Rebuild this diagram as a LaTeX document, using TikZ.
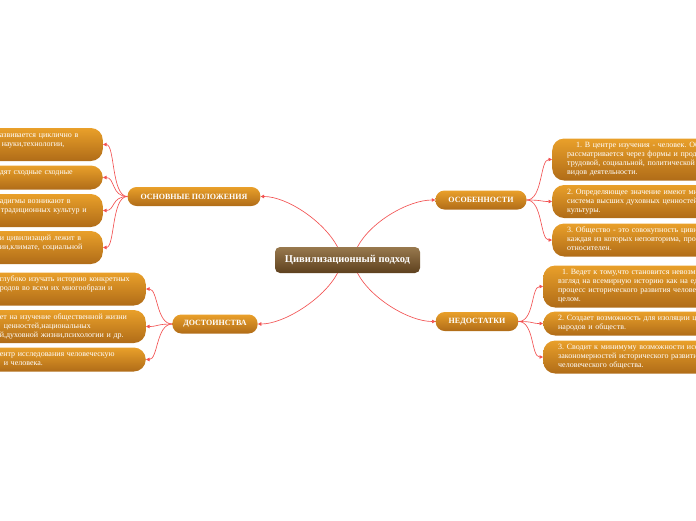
\documentclass[tikz,border=0pt]{standalone}
\usepackage{fontspec}
\setmainfont{Liberation Serif}
\usetikzlibrary{arrows.meta}

\definecolor{boxtop}{RGB}{233,160,42}
\definecolor{boxbot}{RGB}{176,108,24}
\definecolor{roottop}{RGB}{152,121,78}
\definecolor{rootbot}{RGB}{94,65,30}
\definecolor{linkred}{RGB}{242,82,82}

\begin{document}
\frenchspacing
\begin{tikzpicture}[x=1pt, y=-1pt, >={Triangle[length=3.5pt,width=3.5pt]},
    link/.style={->, draw=linkred, line width=0.65pt},
    rootbox/.style={rounded corners=5pt, top color=roottop, bottom color=rootbot,
        text=white, font=\fontsize{10.5}{12}\selectfont\bfseries,
        minimum width=145pt, minimum height=26pt, inner sep=0pt},
    branch/.style={rounded corners=9pt, top color=boxtop, bottom color=boxbot,
        text=white, font=\fontsize{8}{9}\selectfont\bfseries,
        minimum height=19pt, inner xsep=13pt, inner ysep=0pt},
    leaf/.style={rounded corners=12pt, top color=boxtop, bottom color=boxbot,
        text=white, font=\fontsize{8}{9}\selectfont\frenchspacing, align=left,
        inner xsep=15pt, inner ysep=3pt,
        execute at begin node=\strut, execute at end node=\strut},
    leafL/.style={leaf, text width=#1, anchor=east},
    leafR/.style={leaf, text width=200pt, anchor=west}]

    % 1. frame of the picture
    \useasboundingbox (0,0) rectangle (696,520);
    \clip (0,0) rectangle (696,520);

    % 2. centre and the four branches
    \node[rootbox] (cz) at (347.5,260) {Цивилизационный подход};
    \node[branch] (osn) at (194,196.5) {ОСНОВНЫЕ ПОЛОЖЕНИЯ};
    \node[branch, inner xsep=11pt] (dost) at (215,324) {ДОСТОИНСТВА};
    \node[branch] (osob) at (481,200) {ОСОБЕННОСТИ};
    \node[branch] (ned) at (477,321.5) {НЕДОСТАТКИ};

    % 3. leaves on the left
    \node[leafL=88pt] (b1) at (103,144.5) {азвивается циклично в\\\hspace*{2pt}науки,технологии,\\~};
    \node[leafL=88pt] (b2) at (103,177.5) {дят сходные сходные\\~};
    \node[leafL=88pt] (b3) at (103,210.5) {адигмы возникают в\\\hspace*{1pt}традиционных культур и\\~};
    \node[leafL=88pt] (b4) at (103,247.5) {и цивилизаций лежит в\\ии,климате, социальной\\~};

    \node[leafL=131pt] (d1) at (146,289) {глубоко изучать историю конкретных\\родов во всем их многообрази и\\~};
    \node[leafL=131pt] (d2) at (146,326.5) {ет на изучение общественной жизни\\\hspace*{4pt}ценностей,национальных\\й,духовной жизни,психологии и др.};
    \node[leafL=131pt] (d3) at (146,359.5) {ентр исследования человеческую\\\hspace*{4pt}и человека.};

    % 4. leaves on the right
    \node[leafR] (o1) at (552,159.5) {\hspace*{9pt}1. В центре изучения - человек. Общество\\рассматривается через формы и продукты\\трудовой, социальной, политической и др.\\видов деятельности.};
    \node[leafR] (o2) at (552,201.5) {2. Определяющее значение имеют миропонимание,\\система высших духовных ценностей\\культуры.};
    \node[leafR] (o3) at (552,240) {3. Общество - это совокупность цивилизаций,\\каждая из которых неповторима, прогресс\\относителен.};

    \node[leafR] (n1) at (543,286.5) {\hspace*{4pt}1. Ведет к тому,что становится невозможным\\взгляд на всемирную историю как на единый\\процесс исторического развития человечества в\\целом.};
    \node[leafR] (n2) at (543,323.5) {2. Создает возможность для изоляции целых\\народов и обществ.};
    \node[leafR] (n3) at (543,357) {3. Сводит к минимуму возможности исследования\\закономерностей исторического развития\\человеческого общества.};

    % 5. connectors from the centre
    \draw[link] ([xshift=-10pt]cz.north) .. controls +(-14,-26) and +(26,0) .. (osn.east);
    \draw[link] ([xshift=10pt]cz.north) .. controls +(14,-26) and +(-26,0) .. (osob.west);
    \draw[link] ([xshift=-10pt]cz.south) .. controls +(-14,26) and +(26,0) .. (dost.east);
    \draw[link] ([xshift=10pt]cz.south) .. controls +(14,26) and +(-26,0) .. (ned.west);

    % 6. connectors to the leaves
    \foreach \leafname in {b1,b2,b3,b4}
        \draw[link] (osn.west) .. controls +(-16,0) and +(12,0) .. (\leafname.east);
    \foreach \leafname in {d1,d2,d3}
        \draw[link] (dost.west) .. controls +(-16,0) and +(12,0) .. (\leafname.east);
    \foreach \leafname in {o1,o2,o3}
        \draw[link] (osob.east) .. controls +(16,0) and +(-12,0) .. (\leafname.west);
    \foreach \leafname in {n1,n2,n3}
        \draw[link] (ned.east) .. controls +(16,0) and +(-12,0) .. (\leafname.west);
\end{tikzpicture}
\end{document}
